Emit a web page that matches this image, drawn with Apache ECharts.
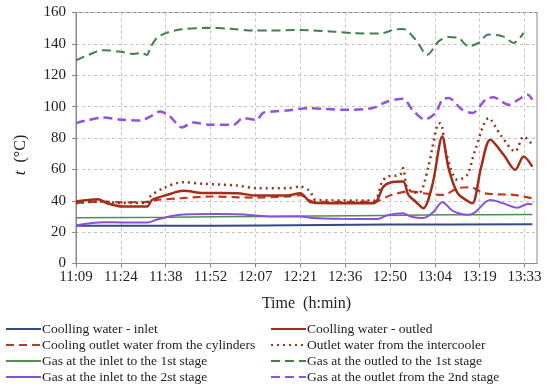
<!DOCTYPE html>
<html><head><meta charset="utf-8">
<script src="https://cdn.jsdelivr.net/npm/echarts@6/dist/echarts.min.js"></script>
<style>html,body{margin:0;padding:0;background:#fff}#c{width:550px;height:388px}</style>
</head><body><div id="c"></div>
<script>
// x tick labels (every 14.4 min starting 11:09)
const timeLabels = ['11:09','11:24','11:38','11:52','12:07','12:21','12:36','12:50','13:04','13:19','13:33'];
const tickStepMin = 14.4;

// series: [minutes after 11:09, temperature °C]
const coolInlet = [[0,24],[30,24],[60,24.3],[100,24.8],[146.5,25]];
const gasIn1 = [[0,29.2],[30,29.5],[60,30],[90,30.5],[120,31],[146.5,31.3]];
const gasIn2 = [[0,24.3],[4,25.5],[9,26.3],[15,26.2],[22.8,26.2],[26,28],[30,30],[34.4,31.3],[45,31.5],[52,31.4],[62,30],[72,30],[76,29],[85,28.5],[96.7,28.4],[100,30.8],[105,32],[107.4,30],[111.5,29],[114.8,33],[117.6,39],[121,33.5],[125.6,31],[128,32.5],[133,40.5],[137,38.5],[141.7,35.6],[145,38],[146.5,37.8]];
const coolCyl = [[0,38.4],[7.7,39.5],[14,39],[22.8,39.3],[26,40.5],[33.4,41.6],[44,42.7],[57,42],[67.8,42.7],[72,43.5],[76,39.5],[85,39.3],[96,39.5],[101,43.5],[107,46],[111.5,44.8],[118,43.7],[122.5,48],[126.7,48.6],[131,44.8],[140.5,43.7],[146.5,41.6]];
const coolOut = [[0,39.5],[3,40.3],[7,41],[10,38.4],[15,36.3],[22.8,36.3],[24.4,40.5],[29.2,43.7],[34.4,46.3],[40.8,45],[51.7,44.8],[58,43.3],[67.8,43.3],[72,44.8],[75,39.5],[78,38.6],[95.5,38.4],[98.7,49],[101,51.6],[105,52.2],[106.7,43.7],[109,39.5],[111.5,35.2],[114.4,50],[117.6,81],[119.6,60.8],[122.5,44.8],[126,39.5],[127.3,38.4],[130,60.8],[133,78.9],[137.3,69.3],[141,59.7],[143.7,68.2],[146.5,61.8]];
const interOut = [[0,38.4],[7,39.5],[15,38.5],[22.8,38.5],[23.8,42.7],[28,48],[34.4,51.8],[40.8,50.8],[51.7,49.7],[58,48],[67.8,48],[72,49],[75,46.3],[77,40.5],[95.5,40.1],[98.3,52.2],[100,55.4],[104,56.5],[105,60.8],[106.4,48],[110,44.8],[113,60.8],[116,88.4],[117,89.5],[119,69.3],[122.5,53.3],[125.6,56.5],[128,71.4],[132.5,92.7],[136.3,82],[141,71.4],[143.7,81],[146.5,75.7]];
const gasOut1 = [[0,129.5],[4,133],[8.7,136],[15,134.8],[18.3,133.6],[21,134.2],[22.8,133],[23.8,137.4],[26,143.8],[29,147],[33.4,149.1],[42,150.2],[49.5,149.7],[57,148.5],[62,148.5],[72,148.8],[82.6,147.8],[89,146.8],[97.7,146.6],[102,149],[105,149.5],[109,142.7],[112.8,133],[116.4,141.6],[119.6,144.4],[122.8,143.8],[126,138.4],[129.2,140.6],[132.4,145.9],[137,144.8],[140.5,140.6],[143.7,147]];
const gasOut2 = [[0,89.5],[4,91.5],[8.7,93],[15,91.6],[21,91.2],[23.8,93.7],[27,96.9],[30.2,93.7],[34,86.7],[37.6,89.9],[43,88.4],[50.5,88.4],[53.7,92.7],[58,91.6],[60,95.9],[64,97],[67.8,97.6],[74.6,99],[85.5,98],[95,99],[100,103.3],[105,105],[108,98],[112,91.8],[115.4,96],[117.6,104.4],[119.6,105.5],[124,98],[127.3,96],[131.5,104.4],[134,106],[138.9,101.2],[142,104.4],[145,107.6],[146.5,104.4]];

const FF = "'Liberation Serif','Times New Roman',serif";
const chart = echarts.init(document.getElementById('c'), null, {renderer:'canvas'});

function mk(name, data, color, type, width, smooth) {
  return {name, type:'line', data, showSymbol:false, symbol:'none', smooth: smooth,
    lineStyle:{color, type, width}, itemStyle:{color}, z: 3};
}
const legendBase = {top:322, orient:'vertical', padding:0, height:70, itemWidth:35, itemHeight:14, itemGap:2,
  itemStyle:{opacity:0, color:'transparent', borderWidth:0},
  textStyle:{fontFamily:FF, fontSize:13.5, color:'#222', lineHeight:14, padding:[0,0,0,-4]}};

chart.setOption({
  animation:false,
  grid:{left:76, right:13, top:12.5, bottom:124.5, show:true, borderColor:'#8a8a8a', borderWidth:1},
  xAxis:{type:'value', min:0, max:148, interval:tickStepMin,
    axisLine:{lineStyle:{color:'#8a8a8a'}},
    axisTick:{show:true, length:4, lineStyle:{color:'#8a8a8a'}},
    axisLabel:{fontFamily:FF, fontSize:15, color:'#222', margin:6, showMaxLabel:false,
      formatter:v=>{const i=Math.round(v/tickStepMin); return (Math.abs(v-i*tickStepMin)<0.01 && i<timeLabels.length)?timeLabels[i]:'';}},
    splitLine:{show:true, lineStyle:{type:[3,3], color:'#c4c4c4'}},
    name:'Time  (h:min)', nameLocation:'middle', nameGap:32,
    nameTextStyle:{fontFamily:FF, fontSize:16, color:'#222'}},
  yAxis:{type:'value', min:0, max:160, interval:20,
    axisLine:{show:true, lineStyle:{color:'#8a8a8a'}},
    axisTick:{show:true, length:4, lineStyle:{color:'#8a8a8a'}},
    axisLabel:{fontFamily:FF, fontSize:15, color:'#222', margin:10},
    splitLine:{show:true, lineStyle:{type:[3,3], color:'#c4c4c4'}}},
  graphic:[{type:'text', x:21, y:155, rotation:Math.PI/2,
    style:{text:'{i|t}  (°C)', align:'center', verticalAlign:'middle', fill:'#222',
      font:"16px 'Liberation Serif',serif",
      rich:{i:{fontStyle:'italic', fontFamily:FF, fontSize:17, fill:'#222'}}}}],
  legend:[
    Object.assign({left:5, data:['Coolling water - inlet','Cooling outlet water from the cylinders','Gas at the inlet to the 1st stage','Gas at the inlet to the 2st stage']}, legendBase),
    Object.assign({left:270, data:['Coolling water - outled','Outlet water from the intercooler','Gas at the outled to the 1st stage','Gas at the outlet from the 2nd stage']}, legendBase)
  ],
  series:[
    mk('Coolling water - inlet', coolInlet, '#34488f', 'solid', 2, 0.3),
    mk('Gas at the inlet to the 1st stage', gasIn1, '#4f8f4f', 'solid', 1.5, 0.3),
    mk('Gas at the inlet to the 2st stage', gasIn2, '#8a4fdc', 'solid', 2, 0.35),
    mk('Cooling outlet water from the cylinders', coolCyl, '#c2381c', [8,5], 2.2, 0.3),
    mk('Outlet water from the intercooler', interOut, '#8e3524', [2,4], 2.5, 0.3),
    mk('Coolling water - outled', coolOut, '#a32c1a', 'solid', 2.5, 0.3),
    mk('Gas at the outled to the 1st stage', gasOut1, '#3f7f4c', [9,5], 2, 0.3),
    mk('Gas at the outlet from the 2nd stage', gasOut2, '#9450e0', [9,5], 2.5, 0.3)
  ]
});
</script></body></html>
